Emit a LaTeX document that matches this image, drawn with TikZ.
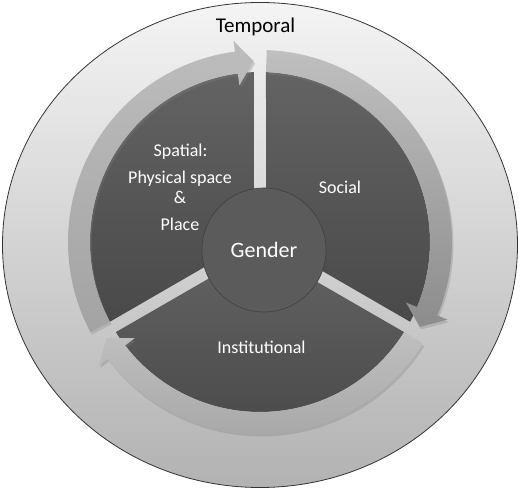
\documentclass[tikz,border=0pt]{standalone}
\usepackage{fontspec}
\setmainfont{Carlito}
\usetikzlibrary{shadows}

\definecolor{ringtop}{HTML}{F4F4F4}
\definecolor{ringbottom}{HTML}{B2B2B2}
\definecolor{sectortop}{HTML}{636363}
\definecolor{sectorbottom}{HTML}{494949}
\definecolor{hubgray}{HTML}{5B5B5B}

\tikzset{
  sector/.style={top color=sectortop, bottom color=sectorbottom},
  cyclearrow/.style={drop shadow={shadow xshift=1.5pt, shadow yshift=-2.5pt, opacity=0.3}},
  sectortext/.style={anchor=base, text=white, font=\fontsize{18}{20}\selectfont}
}

\begin{document}
\begin{tikzpicture}[x=1pt,y=1pt]
    \useasboundingbox (-260,-247) rectangle (260,242);
    \shade[top color=ringtop, bottom color=ringbottom, draw=black!80, line width=0.8pt] (0,-3) ellipse [x radius=257.5, y radius=242.5];
    \path[sector] (150:7) -- (207.98:170) arc[start angle=207.98, end angle=92.02, radius=170] -- cycle;
    \path[sector] (30:7) -- (87.98:170) arc[start angle=87.98, end angle=-27.98, radius=170] -- cycle;
    \path[sector] (-90:7) -- (-32.02:170) arc[start angle=-32.02, end angle=-147.98, radius=170] -- cycle;
    \path[cyclearrow, top color=black!26, bottom color=black!36] (207.98:170) -- (207.98:192) arc[start angle=207.98, end angle=97.5, radius=192] -- (97.5:203) -- (92.02:181) -- (97.5:158) -- (97.5:170) arc[start angle=97.5, end angle=207.98, radius=170] -- cycle;
    \path[cyclearrow, top color=black!25, bottom color=black!45] (87.98:170) -- (87.98:192) arc[start angle=87.98, end angle=-22.5, radius=192] -- (-22.5:203) -- (-27.98:181) -- (-22.5:158) -- (-22.5:170) arc[start angle=-22.5, end angle=87.98, radius=170] -- cycle;
    \path[cyclearrow, top color=black!25, bottom color=black!34] (-32.02:170) -- (-32.02:192) arc[start angle=-32.02, end angle=-142.5, radius=192] -- (-142.5:203) -- (-147.98:181) -- (-142.5:158) -- (-142.5:170) arc[start angle=-142.5, end angle=-32.02, radius=170] -- cycle;
    \node[circle, minimum size=124pt, fill=hubgray, draw=black!75, line width=0.6pt, text=white, font=\fontsize{22}{24}\selectfont] (gender) at (4,-8) {Gender};
    \node[anchor=base, font=\fontsize{21}{24}\selectfont] (temporal) at (-4.5,209) {Temporal};
    \node[sectortext] (social) at (80,48) {Social};
    \node[sectortext] (spatial) at (-79.5,85) {Spatial:};
    \node[sectortext] (physical) at (-80,58) {Physical space};
    \node[sectortext] (and) at (-80,38) {\&};
    \node[sectortext] (place) at (-80,11) {Place};
    \node[sectortext] (institutional) at (1.5,-112) {Institutional};
\end{tikzpicture}
\end{document}
